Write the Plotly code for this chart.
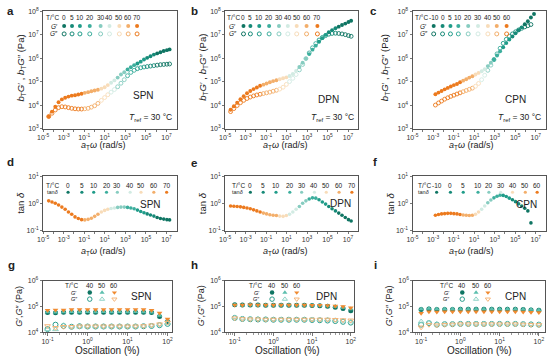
import numpy as np
import plotly.graph_objects as go

W, H = 550, 360

# ---------------- data ----------------
temps_ab = [0, 5, 10, 20, 30, 40, 50, 60, 70]
temps_c = [-10, 0, 5, 10, 20, 30, 40, 50, 60]
palette = ['#0f7563', '#168a78', '#1f9c89', '#3cae9d', '#86ccc0',
           '#d2ebe3', '#f8dcb9', '#f3ae6a', '#ec7a1e']

# master curves (log10 values)
logw_a = [-4.46, -4.14, -3.82, -3.50, -3.18, -2.86, -2.54, -2.22, -1.90, -1.58,
          -1.26, -0.95, -0.63, -0.31, 0.01, 0.33, 0.66, 0.98, 1.29, 1.61,
          1.93, 2.25, 2.57, 2.89, 3.21, 3.53, 3.85, 4.17, 4.49, 4.81,
          5.12, 5.44, 5.77, 6.09, 6.41, 6.73, 7.04, 7.30]
T_a = [70]*11 + [60]*5 + [50]*3 + [40]*2 + [30]*3 + [20]*3 + [10]*3 + [5]*3 + [0]*5
logGp_a = [3.51, 3.72, 3.93, 4.12, 4.24, 4.31, 4.36, 4.40, 4.42, 4.45,
           4.48, 4.52, 4.55, 4.59, 4.62, 4.65, 4.70, 4.76, 4.85, 4.95,
           5.05, 5.17, 5.30, 5.40, 5.52, 5.61, 5.70, 5.77, 5.85, 5.94,
           6.01, 6.08, 6.15, 6.20, 6.25, 6.30, 6.34, 6.37]
logGpp_a = [3.51, 3.65, 3.79, 3.89, 3.93, 3.92, 3.89, 3.86, 3.84, 3.83,
            3.83, 3.84, 3.86, 3.91, 3.97, 4.07, 4.20, 4.32, 4.44, 4.55,
            4.66, 4.78, 4.93, 5.08, 5.25, 5.39, 5.48, 5.55, 5.59, 5.62,
            5.64, 5.66, 5.68, 5.70, 5.72, 5.73, 5.74, 5.75]
logtan_d = [0.09, 0.05, 0.00, -0.06, -0.14, -0.22, -0.32, -0.40, -0.50, -0.56,
            -0.60, -0.61, -0.59, -0.55, -0.48, -0.40, -0.32, -0.26, -0.22, -0.19,
            -0.17, -0.15, -0.14, -0.14, -0.15, -0.17, -0.20, -0.25, -0.30, -0.35,
            -0.39, -0.43, -0.47, -0.52, -0.56, -0.58, -0.60, -0.61]

logw_b = [-4.46, -4.14, -3.82, -3.50, -3.18, -2.86, -2.54, -2.22, -1.90, -1.58,
          -1.26, -0.95, -0.63, -0.31, 0.01, 0.33, 0.66, 0.98, 1.29, 1.61,
          1.93, 2.25, 2.57, 2.89, 3.21, 3.53, 3.85, 4.17, 4.49, 4.81,
          5.12, 5.44, 5.77, 6.09, 6.41, 6.73, 7.04, 7.30]
T_b = [70]*10 + [60]*5 + [50]*3 + [40]*3 + [30]*3 + [20]*3 + [10]*3 + [5]*3 + [0]*5
logGp_b = [3.80, 3.95, 4.10, 4.25, 4.38, 4.50, 4.60, 4.68, 4.75, 4.82,
           4.87, 4.92, 4.97, 5.02, 5.06, 5.10, 5.14, 5.18, 5.24, 5.32,
           5.45, 5.62, 5.80, 5.98, 6.17, 6.36, 6.53, 6.70, 6.85, 6.99,
           7.10, 7.19, 7.27, 7.34, 7.41, 7.47, 7.54, 7.59]
logGpp_b = [3.72, 3.85, 3.98, 4.10, 4.20, 4.28, 4.34, 4.39, 4.43, 4.46,
            4.49, 4.52, 4.55, 4.59, 4.63, 4.68, 4.76, 4.88, 5.00, 5.14,
            5.30, 5.50, 5.73, 5.98, 6.22, 6.44, 6.62, 6.77, 6.88, 6.96,
            7.02, 7.05, 7.06, 7.05, 7.03, 7.00, 6.96, 6.93]
logtan_e = [-0.10, -0.11, -0.12, -0.13, -0.15, -0.17, -0.20, -0.24, -0.28, -0.32,
            -0.36, -0.39, -0.42, -0.44, -0.45, -0.47, -0.48, -0.45, -0.40, -0.32,
            -0.22, -0.12, 0.00, 0.09, 0.16, 0.20, 0.19, 0.13, 0.05, -0.03,
            -0.12, -0.20, -0.28, -0.36, -0.44, -0.52, -0.60, -0.65]

logw_c = [-2.77, -2.47, -2.17, -1.87, -1.57, -1.27, -0.97, -0.67, -0.37, -0.07,
          0.23, 0.53, 0.83, 1.13, 1.43, 1.73, 2.03, 2.33, 2.63, 2.93,
          3.23, 3.53, 3.83, 4.13, 4.43, 4.73, 5.03, 5.33, 5.63, 5.93,
          6.23, 6.53, 6.83]
T_c = [60]*9 + [50]*4 + [40]*2 + [30]*2 + [20]*2 + [10]*3 + [5]*3 + [0]*4 + [-10]*4
logGp_c = [4.46, 4.53, 4.60, 4.67, 4.73, 4.79, 4.85, 4.90, 4.97, 5.04,
           5.10, 5.17, 5.23, 5.30, 5.37, 5.44, 5.53, 5.66, 5.80, 5.95,
           6.11, 6.29, 6.46, 6.64, 6.79, 6.92, 7.06, 7.19, 7.31, 7.44,
           7.57, 7.73, 7.88]
logGpp_c = [4.00, 4.09, 4.17, 4.25, 4.31, 4.37, 4.42, 4.47, 4.52, 4.57,
            4.62, 4.67, 4.72, 4.80, 4.92, 5.08, 5.27, 5.48, 5.70, 5.93,
            6.18, 6.42, 6.63, 6.80, 6.93, 7.03, 7.12, 7.20, 7.27, 7.33,
            7.38, 7.43, None]
logtan_f = [-0.44, -0.41, -0.39, -0.38, -0.37, -0.37, -0.38, -0.39, -0.41, -0.43,
            -0.44, -0.45, -0.44, -0.40, -0.32, -0.22, -0.10, 0.02, 0.12, 0.20,
            0.26, 0.30, 0.29, 0.25, 0.19, 0.13, 0.06, -0.02, -0.10, -0.18,
            -0.28, -0.72, None]

# strain sweeps
temps_sweep = [40, 50, 60]
strain = [0.1, 0.158, 0.251, 0.398, 0.631, 1.0, 1.585, 2.512, 3.981, 6.31,
          10.0, 15.85, 25.12, 39.81, 63.1, 100.0]
logGp_g = [[4.77, 4.76, 4.78, 4.78, 4.78, 4.78, 4.78, 4.78, 4.78, 4.78, 4.78, 4.78, 4.78, 4.77, 4.62, 4.42],
           [4.79, 4.78, 4.79, 4.80, 4.79, 4.80, 4.79, 4.80, 4.79, 4.80, 4.79, 4.80, 4.79, 4.78, 4.65, 4.45],
           [4.86, 4.87, 4.87, 4.88, 4.88, 4.88, 4.88, 4.88, 4.88, 4.88, 4.88, 4.88, 4.88, 4.86, 4.75, 4.52]]
logGpp_g = [[4.13, 4.30, 4.25, 4.22, 4.24, 4.23, 4.23, 4.23, 4.23, 4.23, 4.23, 4.23, 4.24, 4.25, 4.28, 4.33],
            [4.12, 4.12, 4.28, 4.22, 4.22, 4.23, 4.23, 4.22, 4.23, 4.23, 4.23, 4.23, 4.24, 4.26, 4.30, 4.35],
            [4.25, 4.18, 4.22, 4.22, 4.24, 4.24, 4.24, 4.24, 4.24, 4.24, 4.24, 4.24, 4.25, 4.28, 4.32, 4.38]]
logGp_h = [[5.07, 5.06, 5.06, 5.06, 5.05, 5.05, 5.05, 5.05, 5.05, 5.05, 5.04, 5.03, 5.01, 4.97, 4.92, 4.84],
           [5.07, 5.05, 5.06, 5.05, 5.05, 5.05, 5.05, 5.05, 5.05, 5.05, 5.04, 5.04, 5.02, 5.00, 4.96, 4.90],
           [5.06, 5.06, 5.07, 5.06, 5.06, 5.06, 5.06, 5.06, 5.06, 5.06, 5.05, 5.05, 5.04, 5.02, 5.00, 4.95]]
logGpp_h = [[4.56, 4.52, 4.51, 4.50, 4.50, 4.49, 4.49, 4.49, 4.49, 4.49, 4.48, 4.47, 4.46, 4.44, 4.41, 4.38],
            [4.58, 4.53, 4.52, 4.51, 4.50, 4.50, 4.50, 4.50, 4.50, 4.50, 4.50, 4.49, 4.49, 4.47, 4.45, 4.42],
            [4.55, 4.52, 4.51, 4.51, 4.50, 4.50, 4.50, 4.50, 4.50, 4.50, 4.50, 4.50, 4.50, 4.49, 4.48, 4.47]]
logGp_i = [[4.88, 4.90, 4.88, 4.88, 4.88, 4.89, 4.89, 4.89, 4.89, 4.89, 4.89, 4.89, 4.89, 4.88, 4.87, 4.86],
           [4.90, 4.92, 4.90, 4.90, 4.90, 4.90, 4.90, 4.90, 4.90, 4.90, 4.90, 4.90, 4.90, 4.89, 4.88, 4.87],
           [4.74, 4.80, 4.79, 4.80, 4.80, 4.80, 4.80, 4.80, 4.80, 4.80, 4.80, 4.80, 4.80, 4.79, 4.78, 4.77]]
logGpp_i = [[4.30, 4.36, 4.30, 4.32, 4.32, 4.33, 4.33, 4.33, 4.33, 4.33, 4.33, 4.33, 4.33, 4.32, 4.31, 4.30],
            [4.42, 4.38, 4.33, 4.33, 4.33, 4.34, 4.34, 4.34, 4.34, 4.34, 4.34, 4.34, 4.34, 4.33, 4.32, 4.31],
            [4.20, 4.30, 4.28, 4.30, 4.31, 4.32, 4.32, 4.32, 4.32, 4.32, 4.32, 4.32, 4.32, 4.31, 4.30, 4.29]]

sweep_sym = ['circle', 'triangle-up', 'triangle-down']
sweep_col_Gp = ['#0f7563', '#5cbfae', '#f08a30']
sweep_col_Gpp = ['#2a9d8c', '#8fd3c7', '#f5b57a']

# ---------------- helpers ----------------
def p10(v):
    return [None if x is None else 10 ** x for x in v]

FONT = 'Liberation Sans, Arial, sans-serif'
TXT = '#222'

# panel boxes in pixels: x0, x1, ytop, ybottom
panels = {
    'a': (37.7, 173.3, 7.3, 127.0), 'b': (222.3, 357.5, 7.3, 127.0), 'c': (412.5, 548.0, 7.3, 127.0),
    'd': (37.7, 173.3, 175.5, 231.0), 'e': (222.3, 357.5, 175.5, 231.0), 'f': (412.5, 548.0, 175.5, 231.0),
    'g': (37.3, 168.0, 282.0, 335.0), 'h': (222.3, 353.0, 282.0, 335.0), 'i': (413.3, 546.7, 282.0, 335.0),
}
order = ['a', 'b', 'c', 'd', 'e', 'f', 'g', 'h', 'i']

x_freq_major = [-5, -3, -1, 1, 3, 5, 7]
x_freq_minor = [-4, -2, 0, 2, 4, 6]
x_strain_ticks = [-1, 0, 1, 2]
xranges = {'a': [-5, 8], 'b': [-5, 8], 'c': [-5, 8], 'd': [-5, 8], 'e': [-5, 8], 'f': [-5, 8],
           'g': [-1.12, 2.1], 'h': [-1.25, 2.08], 'i': [-1.2, 2.15]}
yticks = {'a': [3, 4, 5, 6, 7, 8], 'd': [-1, 0, 1], 'g': [4, 5, 6]}
yranges = {'a': [3, 8], 'd': [-1, 1], 'g': [4, 6]}

layout = dict(width=W, height=H, margin=dict(l=0, r=0, t=0, b=0),
              paper_bgcolor='white', plot_bgcolor='rgba(0,0,0,0)', showlegend=False,
              hovermode=False, font=dict(family=FONT, size=8, color=TXT))

def ticktext(vals):
    return [f'10<sup>{v}</sup>' for v in vals]

for n, key in enumerate(order, start=1):
    x0, x1, yt, yb = panels[key]
    row = 'a' if key in 'abc' else ('d' if key in 'def' else 'g')
    common = dict(type='log', showline=True, mirror=True, linecolor='#555', linewidth=1,
                  ticks='outside', ticklen=2.5, tickwidth=0.8, tickcolor='#555',
                  showgrid=False, zeroline=False, tickfont=dict(size=7, color='#333', family=FONT))
    xs = '' if n == 1 else str(n)
    if row == 'g':
        xt = x_strain_ticks
        minor = dict(ticks='outside', ticklen=1.5, tickwidth=0.6, tickcolor='#555',
                     tickvals=[10 ** v * m for v in [-2, -1, 0, 1] for m in range(2, 10)])
    else:
        xt = x_freq_major
        minor = dict(ticks='outside', ticklen=2.5, tickwidth=0.8, tickcolor='#555',
                     tickvals=[10 ** v for v in x_freq_minor])
    layout['xaxis' + xs] = dict(common, domain=[x0 / W, x1 / W], range=xranges[key], anchor='y' + xs,
                                tickvals=[10 ** v for v in xt], ticktext=ticktext(xt), minor=minor)
    layout['yaxis' + xs] = dict(common, domain=[1 - yb / H, 1 - yt / H], range=yranges[row], anchor='x' + xs,
                                tickvals=[10 ** v for v in yticks[row]],
                                ticktext=ticktext(yticks[row]), ticklen=2)

# overlay axes for in-panel legend keys (pixel coordinates)
layout['xaxis10'] = dict(domain=[0, 1], range=[0, W], visible=False, anchor='y10')
layout['yaxis10'] = dict(domain=[0, 1], range=[H, 0], visible=False, anchor='x10')

fig = go.Figure()

def axref(key):
    n = order.index(key) + 1
    s = '' if n == 1 else str(n)
    return 'x' + s, 'y' + s

def colors_for(T, temps):
    return [palette[temps.index(t)] for t in T]

master = [('a', 'd', logw_a, T_a, logGp_a, logGpp_a, logtan_d, temps_ab),
          ('b', 'e', logw_b, T_b, logGp_b, logGpp_b, logtan_e, temps_ab),
          ('c', 'f', logw_c, T_c, logGp_c, logGpp_c, logtan_f, temps_c)]

MS = 3.9
for k1, k2, lw, T, gp, gpp, tn, temps in master:
    cols = colors_for(T, temps)
    xa, ya = axref(k1)
    fig.add_trace(go.Scatter(x=p10(lw), y=p10(gpp), mode='markers', xaxis=xa, yaxis=ya,
                             marker=dict(symbol='circle-open', size=MS, color=cols, line=dict(width=0.9))))
    fig.add_trace(go.Scatter(x=p10(lw), y=p10(gp), mode='markers', xaxis=xa, yaxis=ya,
                             marker=dict(symbol='circle', size=MS, color=cols, line=dict(width=0))))
    xa, ya = axref(k2)
    fig.add_trace(go.Scatter(x=p10(lw), y=p10(tn), mode='markers', xaxis=xa, yaxis=ya,
                             marker=dict(symbol='circle', size=3.6, color=cols, line=dict(width=0))))

for key, gps, gpps in [('g', logGp_g, logGpp_g), ('h', logGp_h, logGpp_h), ('i', logGp_i, logGpp_i)]:
    xa, ya = axref(key)
    for j in range(3):
        fig.add_trace(go.Scatter(x=strain, y=p10(gpps[j]), mode='markers', xaxis=xa, yaxis=ya,
                                 marker=dict(symbol=sweep_sym[j] + '-open', size=5,
                                             color=sweep_col_Gpp[j], line=dict(width=1))))
        fig.add_trace(go.Scatter(x=strain, y=p10(gps[j]), mode='markers', xaxis=xa, yaxis=ya,
                                 marker=dict(symbol=sweep_sym[j], size=5,
                                             color=sweep_col_Gp[j], line=dict(width=0))))

# ---------------- legends inside panels ----------------
ann = []

def A(text, x, y, size=8, **kw):
    d = dict(text=text, x=x / W, y=1 - y / H, xref='paper', yref='paper', showarrow=False,
             font=dict(family=FONT, size=size, color=kw.pop('color', TXT)),
             xanchor=kw.pop('xanchor', 'center'), yanchor=kw.pop('yanchor', 'middle'))
    d.update(kw)
    ann.append(d)

leg1 = {'a': ([59, 67, 75, 85, 96, 105, 115, 124, 133], 47.5, 49, temps_ab),
        'b': ([241, 248, 257, 267, 277, 286, 295, 305, 316], 230.5, 230, temps_ab),
        'c': ([434, 443, 451, 459, 469, 479, 489, 498, 508], 421.5, 424, temps_c)}
for key, (xs_, tx, gx, temps) in leg1.items():
    A('T/°C', tx, 14, 6.5)
    A('<i>G</i>′', gx, 22.5, 6.5)
    A('<i>G</i>″', gx, 30.5, 6.5)
    for xx, t in zip(xs_, temps):
        A(str(t), xx, 14, 6.5)
    fig.add_trace(go.Scatter(x=xs_, y=[22.5] * 9, mode='markers', xaxis='x10', yaxis='y10',
                             marker=dict(symbol='circle', size=4, color=palette, line=dict(width=0))))
    fig.add_trace(go.Scatter(x=xs_, y=[30.5] * 9, mode='markers', xaxis='x10', yaxis='y10',
                             marker=dict(symbol='circle-open', size=4, color=palette, line=dict(width=1))))

leg2 = {'d': ([63, 77, 89, 102, 113, 126, 137, 150, 163], 47.5, temps_ab),
        'e': ([248, 261, 274, 288, 300, 313, 325, 338, 351], 235.5, temps_ab),
        'f': ([437, 451, 464, 479, 490, 502, 514, 527, 539], 424.5, temps_c)}
for key, (xs_, tx, temps) in leg2.items():
    A('T/°C', tx, 185.5, 6.5)
    A('tan<i>δ</i>', tx, 192, 5.5)
    for xx, t in zip(xs_, temps):
        A(str(t), xx, 185.5, 6.5)
    fig.add_trace(go.Scatter(x=xs_, y=[192] * 9, mode='markers', xaxis='x10', yaxis='y10',
                             marker=dict(symbol='circle', size=3.2, color=palette, line=dict(width=0))))

leg3 = {'g': ([85, 97.5, 110], 66.5, 69), 'h': ([270, 283, 295], 253.5, 254), 'i': ([463, 477, 489], 446.5, 447)}
for key, (xs_, tx, gx) in leg3.items():
    A('T/°C', tx, 287, 6.5)
    A('<i>G</i>′', gx, 294.3, 5.5)
    A('<i>G</i>″', gx, 300.8, 5.5)
    for xx, t in zip(xs_, temps_sweep):
        A(str(t), xx, 287, 6.5)
    for j in range(3):
        fig.add_trace(go.Scatter(x=[xs_[j]], y=[294.3], mode='markers', xaxis='x10', yaxis='y10',
                                 marker=dict(symbol=sweep_sym[j], size=4.5, color=sweep_col_Gp[j], line=dict(width=0))))
        fig.add_trace(go.Scatter(x=[xs_[j]], y=[301], mode='markers', xaxis='x10', yaxis='y10',
                                 marker=dict(symbol=sweep_sym[j] + '-open', size=4.5, color=sweep_col_Gpp[j], line=dict(width=1))))

# ---------------- labels ----------------
for lab, x, y in [('a', 5, 7), ('b', 191, 7), ('c', 373, 7), ('d', 5, 161), ('e', 191, 162),
                  ('f', 374, 161), ('g', 6, 266), ('h', 191, 266), ('i', 375, 266)]:
    A(f'<b>{lab}</b>', x, y, 11.5)

for txt, x, y in [('SPN', 140, 93), ('DPN', 327, 97), ('CPN', 517, 97),
                  ('SPN', 147, 204), ('DPN', 339, 203), ('CPN', 528, 204),
                  ('SPN', 138, 298), ('DPN', 325, 298), ('CPN', 517, 298)]:
    A(txt, x, y, 10)

for x in [147, 331, 521]:
    A('<i>T</i><sub>ref</sub> = 30 °C', x, 115.5, 8.5)

ytitle1 = '<i>b</i><sub>T</sub><i>G</i>′ , <i>b</i><sub>T</sub><i>G</i>″ (Pa)'
for x in [15, 200, 384]:
    A(ytitle1, x, 65, 9.5, textangle=-90)
for x in [14, 199, 390]:
    A('tan <i>δ</i>', x, 203, 9.5, textangle=-90)
for x in [13, 198, 389]:
    A('<i>G</i>′,<i>G</i>″ (Pa)', x, 308, 9, textangle=-90)

xtitle = '<i>a</i><sub>T</sub><i>ω</i> (rad/s)'
for x in [98, 283, 472]:
    A(xtitle, x, 144, 9)
    A(xtitle, x, 252.5, 9)
for x in [102, 285, 480]:
    A('Oscillation (%)', x, 353, 10)

layout['annotations'] = ann
fig.update_layout(**layout)
fig.write_html('out.html', config={'displayModeBar': False, 'staticPlot': True},
               post_script="document.body.style.margin='0px';document.body.style.overflow='hidden';")
